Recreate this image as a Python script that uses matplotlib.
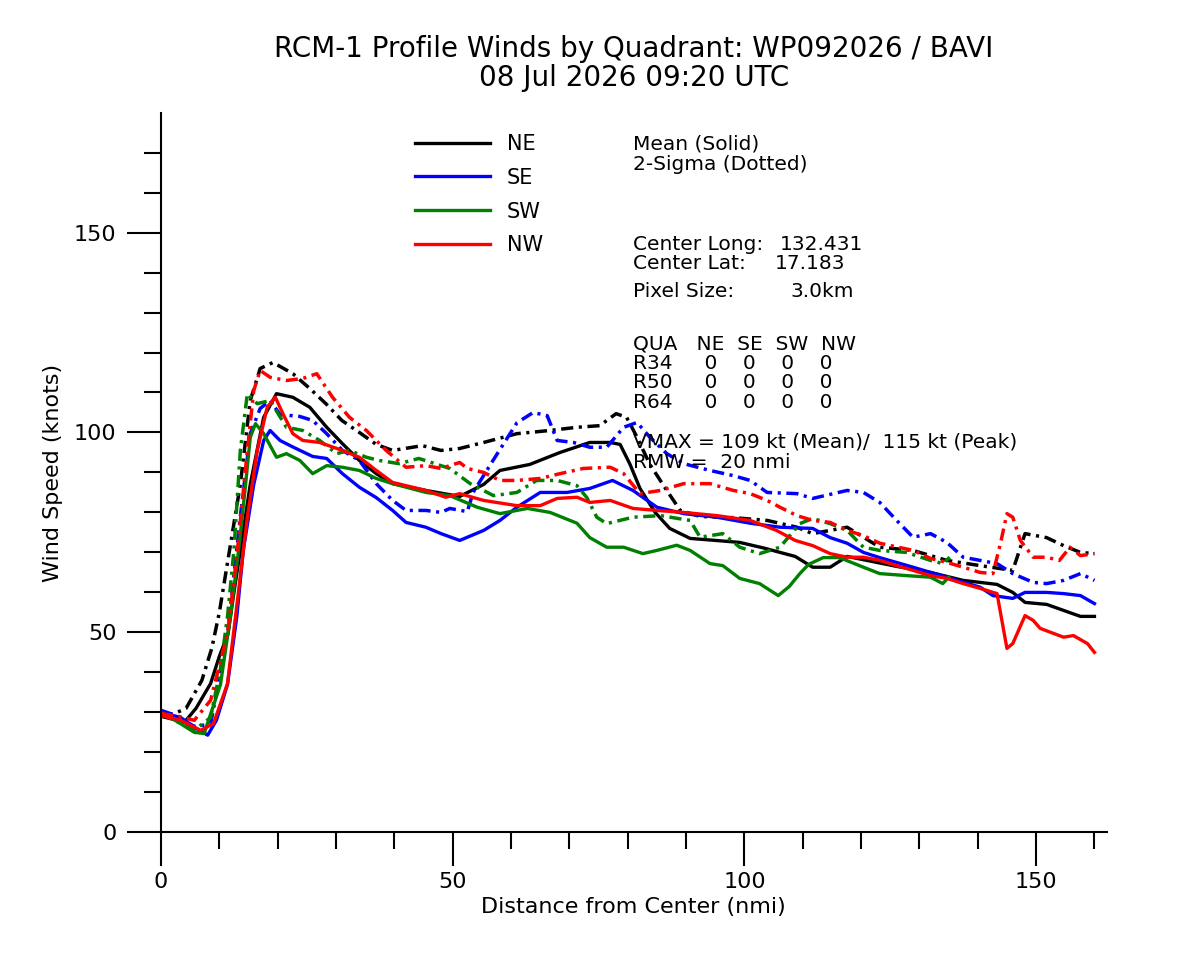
import matplotlib
matplotlib.use("Agg")
import matplotlib.pyplot as plt
from matplotlib.ticker import MultipleLocator, FixedLocator

# ---------------- data ----------------
NE_MEAN_D = [0, 2, 4, 6, 8.5, 10, 11.5, 12.5, 13.6, 15.3, 17.6, 19.8, 22.6, 25.5, 28.4, 31.1, 34, 36.9, 39.7, 45.4,
             51.2, 55.3, 58.1, 63.2, 68.4, 73.5, 77, 78.7, 80.4, 82.1, 84.7, 87.2, 90.7, 95, 99.2, 103.6, 106.1, 108.7,
             111.7, 114.7, 117.6, 126.1, 131.9, 137.5, 143.3, 146, 148.1, 151.8, 154.7, 157.6, 160]
NE_MEAN_V = [29, 28.3, 27.5, 31, 37.2, 44, 49.7, 60, 70.5, 87, 103.8, 109.7, 108.8, 106.3, 101.3, 97.2, 93, 89.7, 87.2, 85.5,
             84, 87, 90.5, 92, 95, 97.5, 97.5, 97, 92, 86, 80, 76, 73.5, 73, 72.5, 71, 70, 69,
             66.3, 66.3, 69, 66.5, 65, 63, 62, 60, 57.5, 57, 55.5, 54, 54]

NE_SIG_D = [0, 2, 4.3, 7, 8.7, 10, 13.6, 15.3, 17, 19.2, 22.6, 25.5, 28.4, 31, 34, 36.9, 39.7, 44.8, 48, 51.2, 55.3,
            61, 66.7, 71.3, 75.2, 78, 79.8, 81.6, 83.8, 86.7, 89, 92.4, 98.1, 103.9, 109, 111.7, 117.6, 123.2, 128.9,
            134.7, 140.4, 146, 148.1, 151.8, 154.7, 157.6, 160]
NE_SIG_V = [30, 29.5, 31, 38, 46, 55, 87, 108, 116, 117.5, 114.7, 111, 107, 103, 100, 97, 95.5, 96.7, 95.5, 96, 97.5,
            99.7, 100.5, 101.3, 101.7, 104.7, 103.8, 98.8, 92, 85.5, 80.5, 79, 78.7, 78, 76.3, 74.7, 76.3, 71.3, 70.5,
            68, 66.7, 65.5, 74.7, 73.7, 71.7, 70, 69.7]

SE_MEAN_D = [0, 3.4, 6, 8, 9.5, 11.4, 13, 14.1, 15.9, 17.6, 18.7, 20.4, 22.7, 26, 28.4, 31.1, 34, 36.9, 39.7, 42, 45.4,
             48, 51.2, 55.3, 58.1, 61, 65, 69.6, 73.5, 77.4, 80.9, 85, 89.6, 95.3, 101, 106.1, 111.7, 114.7, 117.6,
             120.4, 123.2, 128.9, 134.7, 140.4, 142.6, 146, 148.1, 151.8, 154.7, 157.6, 160]
SE_MEAN_V = [30, 28.7, 26, 24.3, 28, 37, 54, 70.5, 87, 98, 100.5, 98, 96.3, 94, 93.5, 89.7, 86.3, 83.7, 80.5, 77.5, 76.3,
             74.7, 73, 75.5, 78, 81.3, 85, 85, 86, 88, 85.5, 81.3, 79.7, 78.8, 77.3, 76.3, 76, 73.7, 72.3,
             70, 68.7, 66.3, 63.8, 61.3, 59.2, 58.5, 60, 60, 59.7, 59.2, 57.2]

SE_SIG_D = [0, 2, 5.7, 8.5, 11.4, 13.6, 15.3, 17, 18.7, 20.4, 23.8, 26, 28.4, 31.1, 34, 36.9, 39.7, 42, 45.4, 48,
            49.5, 52.5, 53.5, 57, 61, 63.8, 66.2, 67.9, 70.7, 73.5, 76.4, 79.3, 81.6, 83.8, 86.7, 89.6, 94.1, 98.1,
            101, 103.9, 109, 111.7, 117.6, 120.4, 123.2, 126.1, 128.9, 131.9, 134.7, 137.5, 140.4, 143.3, 146,
            149.5, 151.8, 154.7, 157.6, 160]
SE_SIG_V = [30.5, 29.5, 26.5, 27, 49.7, 79, 99.7, 106, 108, 104.5, 104, 103, 99.7, 95.5, 93, 87.2, 83, 80.5, 80.5, 80,
            81, 80.2, 85, 93.2, 102.4, 105, 104.2, 98, 97.5, 96.3, 96.3, 101.3, 102.5, 98.8, 94.7, 92.2, 90.5, 89.2,
            88, 85, 84.7, 83.5, 85.5, 85, 82.5, 78, 73.8, 74.7, 72.5, 68.8, 68, 67.2, 64.7,
            62.5, 62.2, 63, 64.7, 63]

SW_MEAN_D = [0, 3, 5.7, 7.4, 10.2, 11.9, 13.3, 14.5, 15.3, 16.2, 17.6, 19.8, 21.5, 23.8, 26, 28.4, 31.1, 34, 36.9, 39.7,
             45.4, 49.5, 54.2, 58.1, 62.8, 66.7, 71.3, 73.5, 76.4, 79.3, 82.6, 85, 88.4, 90.7, 94.1, 96.3, 99.2, 102.6,
             105.8, 107.7, 109.5, 111, 113.5, 116.3, 120.4, 123.2, 127.8, 131.9, 134, 135]
SW_MEAN_V = [30, 27.5, 25, 24.7, 37, 54, 70.5, 87, 98.8, 102.2, 99.7, 93.8, 94.7, 93, 89.7, 91.7, 91.3, 90.5, 88.5, 87.2,
             85, 84.2, 81.3, 79.7, 81, 80, 77.3, 73.7, 71.3, 71.3, 69.7, 70.5, 71.8, 70.5, 67.2, 66.7, 63.5, 62.2,
             59.2, 61.5, 64.7, 67, 68.7, 68.7, 66.3, 64.7, 64.2, 63.8, 62.2, 63.8]

SW_SIG_D = [0, 3, 5.7, 8.5, 10.2, 11.4, 12.5, 13.6, 14.8, 16.5, 18.7, 21.5, 24.3, 27.2, 30.1, 32.3, 35.2, 37.4, 40.8,
            44.2, 48, 49.5, 53, 57, 61, 64.4, 67.9, 71.3, 73, 74.7, 76.4, 80.9, 85.6, 90.7, 92.4, 96.3, 99.2, 102.6,
            106.1, 109.5, 111.7, 114.7, 117.6, 120.4, 123.2, 127.8, 131.9, 134, 135.2]
SW_SIG_V = [29.7, 27.5, 25.5, 28.7, 41, 54, 70.5, 95.5, 109.7, 107.2, 108, 101.3, 100.5, 98, 94.7, 95.5, 93.8, 93, 92.2,
            93.5, 91.7, 91, 87.2, 84.2, 85, 88, 88, 86.7, 83.7, 78.8, 77.2, 78.8, 79.2, 78, 73.8, 74.7, 71.3, 69.7,
            71.3, 77.2, 78.5, 77.2, 75.5, 71.3, 70.5, 70, 68, 67.2, 68.8]

NW_MEAN_D = [0, 3.4, 6.8, 9, 11.4, 13.1, 14.8, 16.5, 18.2, 19.6, 20.9, 22.6, 24.3, 27.2, 31.1, 34, 36.9, 39.7, 45.4,
             48.8, 51.2, 55.3, 61, 65, 67.9, 71.3, 73.5, 77, 80.9, 85, 89.6, 95.3, 101, 105.5, 108.7, 111.7, 114.7,
             117.6, 120.4, 123.2, 126.1, 128.9, 131.9, 134.7, 137.5, 140.4, 143.3, 145, 146, 148.1, 149.5, 150.7,
             154.7, 156.4, 158.8, 160]
NW_MEAN_V = [29.2, 28, 25.5, 27.2, 37.2, 58, 78.8, 95.5, 106.3, 108.8, 104.7, 99.7, 98, 97.5, 95.5, 93.8, 90.5, 87.5, 85.5,
             83.8, 84.7, 83, 81.7, 81.7, 83.5, 83.8, 82.5, 83, 81, 80.5, 80, 79.2, 78, 75.5, 73, 71.7, 69.7,
             68.8, 68.8, 68, 66.7, 65.5, 64.2, 63.5, 62.2, 61, 59.7, 46, 47.2, 54.2, 53, 51,
             48.8, 49.2, 47.2, 45]

NW_SIG_D = [0, 3, 5.7, 8.5, 11.4, 13.1, 14.8, 15.9, 17, 18.7, 21.5, 24.3, 26.7, 29.4, 32.3, 35.2, 38.6, 42, 45.4, 48,
            51.2, 52.5, 55.3, 58.1, 61, 65, 68.4, 72.4, 77, 79.3, 82.1, 85.6, 89.6, 94.1, 98.1, 101, 103.9, 106.1,
            109, 111.7, 114.7, 117.6, 120.4, 123.2, 128.9, 131.9, 134.7, 137.5, 140.4, 142.6, 143.9, 145, 146,
            147.3, 149.5, 151.8, 154, 155.8, 157.6, 160]
NW_SIG_V = [29.7, 29, 28, 33, 49.7, 70.5, 95.5, 110.5, 115.5, 113.8, 113, 113.5, 114.7, 108.8, 103.8, 100.5, 95.5, 91.3,
            91.7, 91, 92.5, 91, 90, 88, 88, 88.5, 89.7, 91, 91.3, 89.7, 84.7, 85.5, 87.2, 87.2, 85.5, 84.7, 83, 81.3,
            79.2, 78, 77.5, 75.5, 74.2, 72.3, 70.5, 68.5, 67.5, 66.3, 65, 64.7, 72.3, 79.7, 78.8,
            73, 68.8, 68.8, 68, 71.3, 69.2, 69.7]

QUADRANTS = ["NE", "SE", "SW", "NW"]
COLORS = ["black", "blue", "green", "red"]
R34 = [0, 0, 0, 0]
R50 = [0, 0, 0, 0]
R64 = [0, 0, 0, 0]
X_TICKS = [0, 50, 100, 150]
Y_TICKS = [0, 50, 100, 150]

TITLE1 = "RCM-1 Profile Winds by Quadrant: WP092026 / BAVI"
TITLE2 = "08 Jul 2026 09:20 UTC"

# ---------------- figure ----------------
W, H = 1200, 960
fig = plt.figure(figsize=(12, 9.6), dpi=100)


def fx(px):
    return px / W


def fy(py):
    return 1 - py / H


ax = fig.add_axes([fx(161), fy(832.3), (1106.7 - 161) / W, (832.3 - 113) / H])

series = [
    (NE_MEAN_D, NE_MEAN_V, NE_SIG_D, NE_SIG_V),
    (SE_MEAN_D, SE_MEAN_V, SE_SIG_D, SE_SIG_V),
    (SW_MEAN_D, SW_MEAN_V, SW_SIG_D, SW_SIG_V),
    (NW_MEAN_D, NW_MEAN_V, NW_SIG_D, NW_SIG_V),
]
dashdot = (0, (3.5, 1.6, 0.9, 1.6))
handles = []
for (md, mv, sd, sv), col in zip(series, COLORS):
    h, = ax.plot(md, mv, color=col, lw=2.4, solid_joinstyle="round")
    ax.plot(sd, sv, color=col, lw=2.5, linestyle=dashdot)
    handles.append(h)

ax.set_xlim(0, 162.1)
ax.set_ylim(0, 179.9)
for s in ["top", "right"]:
    ax.spines[s].set_visible(False)
for s in ["left", "bottom"]:
    ax.spines[s].set_linewidth(1.5)

ax.xaxis.set_major_locator(FixedLocator(X_TICKS))
ax.yaxis.set_major_locator(FixedLocator(Y_TICKS))
ax.xaxis.set_minor_locator(MultipleLocator(10))
ax.yaxis.set_minor_locator(MultipleLocator(10))
ax.tick_params(which="major", length=24.5, width=1.5, labelsize=16, direction="out")
ax.tick_params(which="minor", length=12.5, width=1.5, direction="out")
ax.tick_params(axis="x", which="major", pad=4)
ax.tick_params(axis="y", which="major", pad=7.5)

ax.set_xlabel("Distance from Center (nmi)", fontsize=16)
ax.set_ylabel("Wind Speed (knots)", fontsize=16)
ax.xaxis.label.set_va("baseline")
ax.yaxis.label.set_va("baseline")
ax.xaxis.set_label_coords(0.5, (832.3 - 913) / 719.3)
ax.yaxis.set_label_coords((58.6 - 161) / 945.7, 0.5)

fig.text(fx(633.8), fy(57), TITLE1, ha="center", va="baseline", fontsize=20)
fig.text(fx(633.8), fy(86), TITLE2, ha="center", va="baseline", fontsize=20)

ax.legend(handles, QUADRANTS, loc="upper left", bbox_to_anchor=(fx(415), fy(134)),
          bbox_transform=fig.transFigure, frameon=False, fontsize=15,
          handlelength=3.6, handletextpad=0.8, labelspacing=0.66,
          borderpad=0, borderaxespad=0)

FS = 14.5
TX = 633


def note(txt, ybase, x=TX):
    fig.text(fx(x), fy(ybase), txt, ha="left", va="baseline", fontsize=FS, zorder=5)


note("Mean (Solid)", 150)
note("2-Sigma (Dotted)", 170)
note("Center Long:", 250)
note("132.431", 250, x=779.8)
note("Center Lat:", 269)
note("17.183", 269, x=774.8)
note("Pixel Size:", 297)
note("3.0km", 297, x=790.5)
note("QUA   " + "  ".join(QUADRANTS), 349)


def row(name, vals):
    return name + "     " + "    ".join(str(v) for v in vals)


note(row("R34", R34), 369)
note(row("R50", R50), 388)
note(row("R64", R64), 408)
note("VMAX = 109 kt (Mean)/  115 kt (Peak)", 448)
note("RMW =  20 nmi", 468)

fig.savefig("out.png", dpi=100)
